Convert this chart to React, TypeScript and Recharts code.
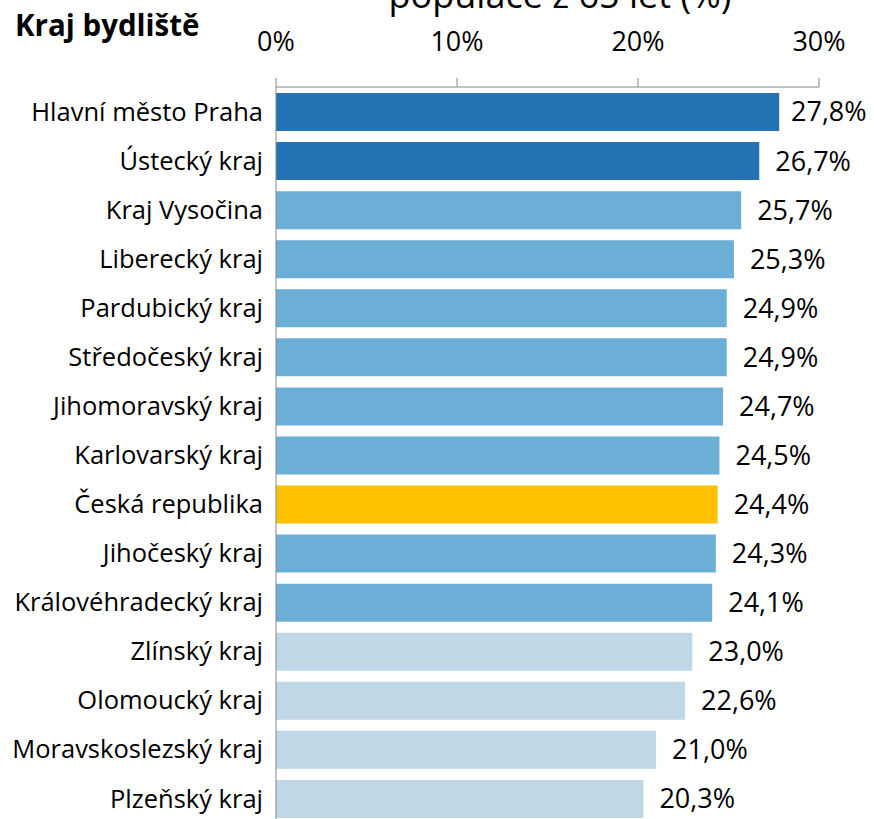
import { BarChart, Bar, XAxis, YAxis, Cell, LabelList } from "recharts";

const regions = [
  "Hlavní město Praha",
  "Ústecký kraj",
  "Kraj Vysočina",
  "Liberecký kraj",
  "Pardubický kraj",
  "Středočeský kraj",
  "Jihomoravský kraj",
  "Karlovarský kraj",
  "Česká republika",
  "Jihočeský kraj",
  "Královéhradecký kraj",
  "Zlínský kraj",
  "Olomoucký kraj",
  "Moravskoslezský kraj",
  "Plzeňský kraj",
];

const shares = [27.8, 26.7, 25.7, 25.3, 24.9, 24.9, 24.7, 24.5, 24.4, 24.3, 24.1, 23.0, 22.6, 21.0, 20.3];

// skupina kraje podle podílu; "cr" = celá republika
const tiers = ["high", "high", "mid", "mid", "mid", "mid", "mid", "mid", "cr", "mid", "mid", "low", "low", "low", "low"];

const xTicks = [0, 10, 20, 30];

const tierColors: Record<string, string> = {
  high: "#2272b4",
  mid: "#6baed6",
  low: "#bfd7e6",
  cr: "#ffc000",
};

const data = regions.map((region, i) => ({ region, share: shares[i], tier: tiers[i] }));

const FONT = "'Open Sans', sans-serif";
const LABEL_W = 76; // přibližná šířka popisku "27,8%"
const RIGHT_LIMIT = 867;

const fmt = (v: number) => `${Number(v).toFixed(1).replace(".", ",")}%`;

// popisek vpravo od sloupce, u okraje posunutý dovnitř (jako v Excelu)
function ValueLabel(props: any) {
  const { x, y, width, height, value } = props;
  let lx = x + width + 16;
  if (lx + LABEL_W > RIGHT_LIMIT) lx = RIGHT_LIMIT - LABEL_W;
  return (
    <text x={lx} y={y + height / 2} dy="0.35em" fontSize={27} fontFamily={FONT} fill="#000">
      {fmt(value)}
    </text>
  );
}

export default function App() {
  return (
    <div style={{ position: "absolute", left: 0, top: 0, width: 874, height: 819, overflow: "hidden", background: "#fff" }}>
      <BarChart
        width={874}
        height={823}
        data={data}
        layout="vertical"
        margin={{ top: 0, right: 55, bottom: 0, left: 0 }}
        barSize={38}
      >
        <XAxis
          type="number"
          orientation="top"
          domain={[0, 30]}
          ticks={xTicks}
          tickFormatter={(v: number) => `${v}%`}
          height={87}
          tickSize={9}
          tickMargin={27}
          stroke="#868686"
          tick={{ fill: "#000", fontSize: 27, fontFamily: FONT }}
        />
        <YAxis
          type="category"
          dataKey="region"
          width={276}
          tickLine={false}
          tickSize={0}
          tickMargin={13}
          stroke="#868686"
          interval={0}
          tick={{ fill: "#000", fontSize: 25.5, fontFamily: FONT }}
        />
        <Bar dataKey="share" isAnimationActive={false}>
          {data.map((d) => (
            <Cell key={d.region} fill={tierColors[d.tier]} />
          ))}
          <LabelList dataKey="share" content={ValueLabel} />
        </Bar>
      </BarChart>
      <svg width={874} height={60} style={{ position: "absolute", left: 0, top: 0 }}>
        <text x={560} y={8} textAnchor="middle" fontSize={36} fontFamily={FONT} fill="#000">
          populace z 65 let (%)
        </text>
        <text x={15} y={36} fontSize={29.5} fontWeight="bold" fontFamily={FONT} fill="#000">
          Kraj bydliště
        </text>
      </svg>
    </div>
  );
}
